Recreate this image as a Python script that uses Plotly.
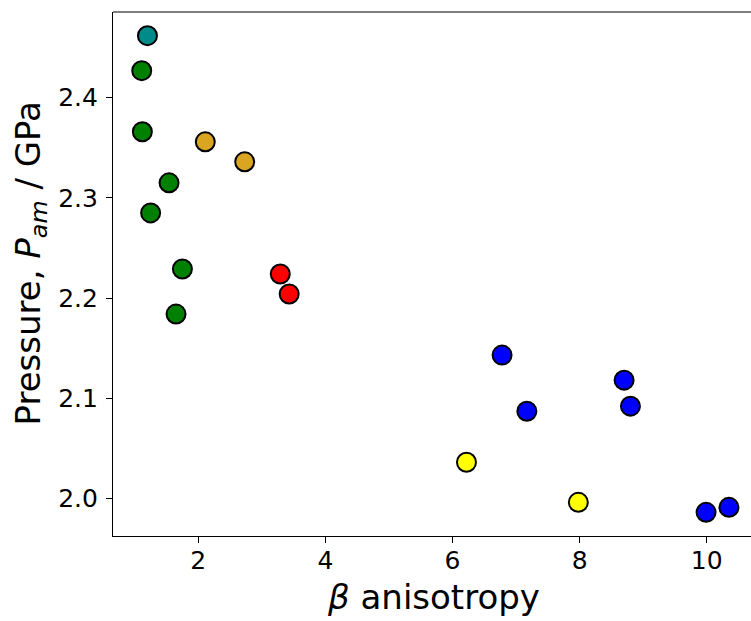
import plotly.graph_objects as go

# Data (beta anisotropy, pressure in GPa)
teal_x = [1.20]
teal_y = [2.462]
green_x = [1.11, 1.12, 1.54, 1.25, 1.75, 1.65]
green_y = [2.427, 2.366, 2.315, 2.285, 2.229, 2.184]
gold_x = [2.11, 2.73]
gold_y = [2.356, 2.336]
red_x = [3.29, 3.43]
red_y = [2.224, 2.204]
blue_x = [6.78, 7.17, 8.70, 8.80, 9.99, 10.35]
blue_y = [2.143, 2.087, 2.118, 2.092, 1.986, 1.991]
yellow_x = [6.22, 7.98]
yellow_y = [2.036, 1.996]

x_ticks = [2, 4, 6, 8, 10]
y_ticks = [2.0, 2.1, 2.2, 2.3, 2.4]
y_tick_text = ["2.0", "2.1", "2.2", "2.3", "2.4"]

groups = [
    (teal_x, teal_y, "#008B8B"),
    (green_x, green_y, "#008000"),
    (gold_x, gold_y, "#DAA520"),
    (red_x, red_y, "#FF0000"),
    (blue_x, blue_y, "#0000FF"),
    (yellow_x, yellow_y, "#FFFF00"),
]

fig = go.Figure()
for xs, ys, col in groups:
    fig.add_trace(go.Scatter(
        x=xs, y=ys, mode="markers",
        marker=dict(size=19, color=col, line=dict(color="black", width=2)),
        showlegend=False, hoverinfo="x+y",
    ))

FONT = "DejaVu Sans"
fig.update_layout(
    width=751, height=621,
    margin=dict(l=113, r=0, t=12, b=85),
    paper_bgcolor="white", plot_bgcolor="white",
    font=dict(family=FONT, color="black"),
    xaxis=dict(
        range=[0.658, 10.697], tickvals=x_ticks, ticktext=[str(v) for v in x_ticks],
        showgrid=False, zeroline=False, showline=True, linecolor="black", linewidth=1.2,
        ticks="outside", ticklen=6, tickwidth=1.2, tickcolor="black",
        tickfont=dict(family=FONT, size=25, color="black"),
        ticklabelstandoff=-4,
    ),
    yaxis=dict(
        range=[1.9624, 2.4856], tickvals=y_ticks, ticktext=y_tick_text,
        showgrid=False, zeroline=False, showline=True, linecolor="black", linewidth=1.2,
        ticks="outside", ticklen=6, tickwidth=1.2, tickcolor="black",
        tickfont=dict(family=FONT, size=25, color="black"),
        ticklabelstandoff=3,
    ),
    shapes=[dict(type="line", xref="paper", yref="paper", x0=0, x1=1, y0=1, y1=1,
                 line=dict(color="black", width=1.2))],
    annotations=[
        dict(text="<i>β</i> anisotropy", xref="paper", yref="paper",
             x=(433.7 - 113) / 638, y=-(597 - 536) / 524,
             xanchor="center", yanchor="middle", showarrow=False,
             font=dict(family=FONT, size=34, color="black")),
        dict(text="Pressure, <i>P</i><sub><i>am</i></sub> / GPa", xref="paper", yref="paper",
             x=-(113 - 30) / 638, y=(536 - 263.5) / 524,
             xanchor="center", yanchor="middle", textangle=-90, showarrow=False,
             font=dict(family=FONT, size=34, color="black")),
    ],
)

fig.write_html("out.html")
